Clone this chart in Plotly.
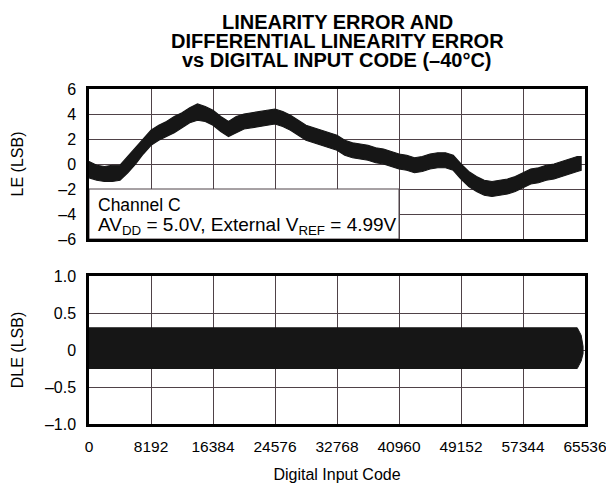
import plotly.graph_objects as go
from plotly.subplots import make_subplots

# ---------------- data ----------------
le_codes = [0, 1024, 2048, 3072, 4096, 5120, 6144, 7168, 8192, 9216, 10240, 11264,
            12288, 13312, 14336, 15360, 16384, 17408, 18432, 19456, 20480, 21504,
            22528, 23552, 24576, 25600, 26624, 27648, 28672, 29696, 30720, 31744,
            32768, 33792, 34816, 35840, 36864, 37888, 38912, 39936, 40960, 41984,
            43008, 44032, 45056, 46080, 47104, 48128, 49152, 50176, 51200, 52224,
            53248, 54272, 55296, 56320, 57344, 58368, 59392, 60416, 61440, 62464,
            63488, 64512, 65024]
le_upper = [0.2, -0.1, -0.2, -0.1, -0.1, 0.6, 1.3, 2.0, 2.7, 3.1, 3.4, 3.8,
            4.1, 4.5, 4.8, 4.6, 4.3, 3.8, 3.4, 3.8, 4.0, 4.1, 4.2, 4.3,
            4.4, 4.2, 3.9, 3.5, 3.1, 2.9, 2.7, 2.5, 2.3, 1.9, 1.7, 1.6,
            1.5, 1.3, 1.2, 1.0, 0.8, 0.7, 0.5, 0.6, 0.8, 0.9, 0.9, 0.7,
            0.0, -0.6, -1.0, -1.3, -1.4, -1.3, -1.2, -1.0, -0.7, -0.4, -0.3, -0.1,
            0.0, 0.2, 0.4, 0.6, 0.6]
le_lower = [-1.1, -1.3, -1.4, -1.4, -1.3, -0.7, 0.0, 0.8, 1.5, 1.9, 2.2, 2.5,
            2.9, 3.3, 3.5, 3.4, 3.1, 2.6, 2.2, 2.5, 2.8, 2.9, 3.0, 3.1,
            3.2, 3.0, 2.7, 2.3, 1.9, 1.7, 1.5, 1.3, 1.1, 0.7, 0.5, 0.4,
            0.3, 0.1, 0.0, -0.2, -0.4, -0.5, -0.7, -0.6, -0.4, -0.3, -0.3, -0.5,
            -1.2, -1.8, -2.2, -2.5, -2.6, -2.5, -2.4, -2.2, -1.9, -1.6, -1.5, -1.3,
            -1.2, -1.0, -0.8, -0.6, -0.5]

dle_codes = [0, 16384, 32768, 49152, 64512, 65024, 65280]
dle_upper = [0.3, 0.3, 0.3, 0.3, 0.3, 0.2, 0.05]
dle_lower = [-0.25, -0.25, -0.25, -0.25, -0.25, -0.15, -0.05]

x_ticks = [0, 8192, 16384, 24576, 32768, 40960, 49152, 57344, 65536]
x_tick_labels = ["0", "8192", "16384", "24576", "32768", "40960", "49152", "57344", "65536"]
le_ticks = [-6, -4, -2, 0, 2, 4, 6]
le_tick_labels = ["\u20136", "\u20134", "\u20132", "0", "2", "4", "6"]
dle_ticks = [-1.0, -0.5, 0, 0.5, 1.0]
dle_tick_labels = ["\u20131.0", "\u20130.5", "0", "0.5", "1.0"]

title_lines = ["LINEARITY ERROR AND", "DIFFERENTIAL LINEARITY ERROR",
               "vs DIGITAL INPUT CODE (\u201340\u00b0C)"]
note_line1 = "Channel C"
note_line2 = "AV<sub>DD</sub> = 5.0V, External V<sub>REF</sub> = 4.99V"

# ---------------- figure ----------------
FONT = "Liberation Sans, Arial, Helvetica, sans-serif"
GRID = "#4f4248"
BAND = "#161616"

# page body has an 8px margin, so the figure is 16px smaller than the window
W, H = 598, 475
ML, MR, MT, MB = 81, 21, 81, 59

fig = make_subplots(rows=2, cols=1, shared_xaxes=False, vertical_spacing=0.11)

fig.add_trace(go.Scatter(
    x=le_codes + le_codes[::-1], y=le_upper + le_lower[::-1],
    fill="toself", fillcolor=BAND, mode="lines",
    line=dict(color=BAND, width=1.2), hoverinfo="skip", showlegend=False),
    row=1, col=1)

fig.add_trace(go.Scatter(
    x=dle_codes + dle_codes[::-1], y=dle_upper + dle_lower[::-1],
    fill="toself", fillcolor=BAND, mode="lines",
    line=dict(color=BAND, width=1), hoverinfo="skip", showlegend=False),
    row=2, col=1)

axis_common = dict(showline=True, linecolor="black", linewidth=2.5, mirror=True,
                   showgrid=True, gridcolor=GRID, gridwidth=1, zeroline=False,
                   automargin=False,
                   ticks="", tickfont=dict(family=FONT, size=16, color="black"))

fig.update_xaxes(range=[0, 65536], tickvals=x_ticks, ticktext=x_tick_labels,
                 **axis_common)
fig.update_xaxes(showticklabels=False, row=1, col=1)
fig.update_xaxes(ticklabelstandoff=7, ticklabeloverflow="allow",
                 tickfont=dict(family=FONT, size=15.5, color="black"),
                 title=dict(text="Digital Input Code", standoff=27,
                            font=dict(family=FONT, size=16, color="black")),
                 row=2, col=1)

fig.update_yaxes(range=[-6, 6], tickvals=le_ticks, ticktext=le_tick_labels,
                 ticklabelstandoff=7,
                 title=dict(text="LE (LSB)", standoff=31,
                            font=dict(family=FONT, size=16, color="black")),
                 row=1, col=1, **axis_common)
fig.update_yaxes(range=[-1, 1], tickvals=dle_ticks, ticktext=dle_tick_labels,
                 ticklabelstandoff=7,
                 title=dict(text="DLE (LSB)", standoff=18,
                            font=dict(family=FONT, size=16, color="black")),
                 row=2, col=1, **axis_common)

fig.update_layout(yaxis=dict(domain=[185 / 335, 1.0]), yaxis2=dict(domain=[0.0, 148 / 335]),
                  xaxis=dict(domain=[0, 1]), xaxis2=dict(domain=[0, 1]))

# white legend box covering the lower-left part of the LE plot
fig.add_shape(type="rect", xref="x", yref="y", x0=0, x1=40960, y0=-6, y1=-2,
              fillcolor="white", line=dict(color=GRID, width=1), layer="between")

fig.add_annotation(xref="x domain", yref="y", x=0.014, y=-3.25, xanchor="left",
                   yanchor="middle", text=note_line1, showarrow=False,
                   font=dict(family=FONT, size=17.5, color="black"))
fig.add_annotation(xref="x domain", yref="y", x=0.014, y=-4.95, xanchor="left",
                   yanchor="middle", text=note_line2, showarrow=False,
                   font=dict(family=FONT, size=19, color="black"))

# three-line bold title with tight leading (pixel rows in the page)
for txt, ypx in zip(title_lines, [22, 41, 60]):
    fig.add_annotation(xref="paper", yref="paper", x=0.5, y=(424 - ypx) / 335,
                       xanchor="center", yanchor="middle", showarrow=False,
                       text="<b>%s</b>" % txt,
                       font=dict(family=FONT, size=20, color="black"))

fig.update_layout(
    width=W, height=H,
    margin=dict(l=ML, r=MR, t=MT, b=MB, autoexpand=False),
    paper_bgcolor="white", plot_bgcolor="white",
    font=dict(family=FONT, color="black"),
    showlegend=False,
)

fig.write_html("out.html")
